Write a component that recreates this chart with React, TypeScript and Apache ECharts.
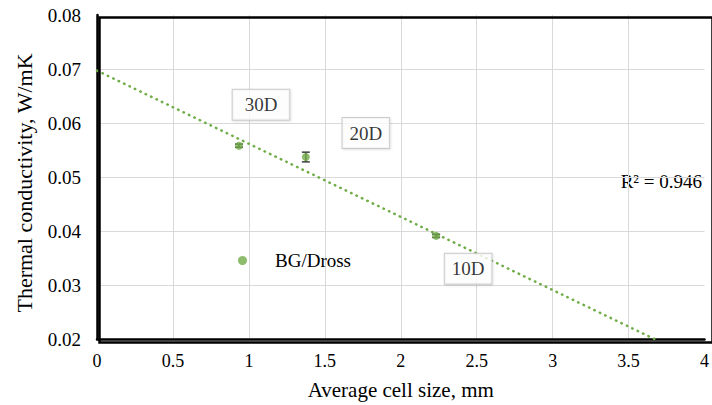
import React, { useEffect, useRef } from "react";
import * as echarts from "echarts";

const sampleNames = ["30D", "20D", "10D"];
const cellSize = [0.935, 1.375, 2.233];
const conductivity = [0.0558, 0.0537, 0.0391];
const errLow = [0.0555, 0.0528, 0.0388];
const errHigh = [0.0561, 0.0546, 0.0394];
const trendX = [0, 3.67];
const trendY = [0.0697, 0.02];
const labelOffsets = [
  [22, -41],
  [60, -24],
  [32, 33],
];
const labelPaddings = [
  [6, 12, 5, 12],
  [6, 7, 5, 7],
  [6, 7, 5, 7],
];
const rSquaredText = "R² = 0.946";
const yTitle = "Thermal conductivity, W/mK";
const xTitle = "Average cell size, mm";

const FONT = "Liberation Serif";
const GREEN = "#70ad47";

export default function App() {
  const ref = useRef<HTMLDivElement>(null);
  useEffect(() => {
    if (!ref.current) return;
    const chart = echarts.init(ref.current, null, { renderer: "svg" });
    const points = cellSize.map((x, i) => ({
      value: [x, conductivity[i]],
      label: {
        show: true,
        formatter: sampleNames[i],
        position: "inside",
        offset: labelOffsets[i],
        backgroundColor: "#ffffff",
        borderColor: "#bfbfbf",
        borderWidth: 1,
        padding: labelPaddings[i],
        color: "#000",
        fontFamily: FONT,
        fontSize: 19,
        shadowColor: "rgba(0,0,0,0.12)",
        shadowBlur: 2,
        shadowOffsetX: 1,
        shadowOffsetY: 1,
      },
    }));
    const errData = cellSize.map((x, i) => [x, errLow[i], errHigh[i]]);
    chart.setOption({
      animation: false,
      grid: {
        left: 97,
        top: 15,
        right: 2,
        bottom: 65,
        show: false,
        containLabel: false,
      },
      legend: {
        data: ["BG/Dross"],
        left: 238,
        top: 251,
        padding: 0,
        icon: "circle",
        itemWidth: 9,
        itemHeight: 9,
        textStyle: {
          fontFamily: FONT,
          fontSize: 19,
          color: "#000",
          padding: [0, 0, 0, 23],
        },
      },
      xAxis: {
        type: "value",
        min: 0,
        max: 4,
        interval: 0.5,
        name: xTitle,
        nameLocation: "middle",
        nameGap: 40,
        nameTextStyle: { fontFamily: FONT, fontSize: 21, color: "#000" },
        axisLine: { show: true, onZero: false, lineStyle: { color: "#000000", width: 2.5 } },
        axisTick: { show: false },
        axisLabel: { fontFamily: FONT, fontSize: 18, color: "#000", margin: 13 },
        splitLine: {
          show: true,
          showMinLine: false,
          showMaxLine: false,
          lineStyle: { color: "#d9d9d9", width: 1 },
        },
      },
      yAxis: {
        type: "value",
        min: 0.02,
        max: 0.08,
        interval: 0.01,
        axisLine: { show: true, onZero: false, lineStyle: { color: "#000000", width: 2.5 } },
        axisTick: { show: false },
        axisLabel: {
          fontFamily: FONT,
          fontSize: 19,
          color: "#000",
          margin: 16,
          formatter: (v: number) => v.toFixed(2),
        },
        splitLine: {
          show: true,
          showMinLine: false,
          showMaxLine: false,
          lineStyle: { color: "#d9d9d9", width: 1 },
        },
      },
      series: [
        {
          name: "Trend",
          type: "line",
          data: trendX.map((x, i) => [x, trendY[i]]),
          symbol: "none",
          lineStyle: { color: GREEN, width: 2.5, type: [0.5, 5.5], cap: "round" },
          z: 2,
        },
        {
          name: "ErrorBars",
          type: "custom",
          data: errData,
          z: 3,
          renderItem: (params: any, api: any) => {
            const x = api.value(0);
            const lo = api.coord([x, api.value(1)]);
            const hi = api.coord([x, api.value(2)]);
            const hw = 4;
            const style = { stroke: "#404040", lineWidth: 1.5 };
            return {
              type: "group",
              children: [
                { type: "line", shape: { x1: lo[0], y1: lo[1], x2: hi[0], y2: hi[1] }, style },
                { type: "line", shape: { x1: lo[0] - hw, y1: lo[1], x2: lo[0] + hw, y2: lo[1] }, style },
                { type: "line", shape: { x1: hi[0] - hw, y1: hi[1], x2: hi[0] + hw, y2: hi[1] }, style },
              ],
            };
          },
        },
        {
          name: "BG/Dross",
          type: "scatter",
          data: points,
          symbol: "circle",
          symbolSize: 8,
          itemStyle: { color: GREEN },
          z: 4,
        },
      ],
      graphic: [
        {
          type: "rect",
          left: 97,
          top: 15,
          z: 100,
          shape: { width: 613, height: 325 },
          style: { fill: "none", stroke: "#000000", lineWidth: 2.5 },
          silent: true,
        },
        {
          type: "text",
          x: 24,
          y: 183,
          rotation: Math.PI / 2,
          style: {
            text: yTitle,
            font: "22px Liberation Serif",
            fill: "#000",
            align: "center",
            verticalAlign: "middle",
          },
        },
        {
          type: "text",
          right: 10,
          top: 172,
          style: {
            text: rSquaredText,
            font: "19px Liberation Serif",
            fill: "#000",
          },
        },
      ],
    });
    return () => chart.dispose();
  }, []);
  return (
    <div
      ref={ref}
      style={{ position: "fixed", left: 0, top: 0, width: 712, height: 405, background: "#fff" }}
    />
  );
}
